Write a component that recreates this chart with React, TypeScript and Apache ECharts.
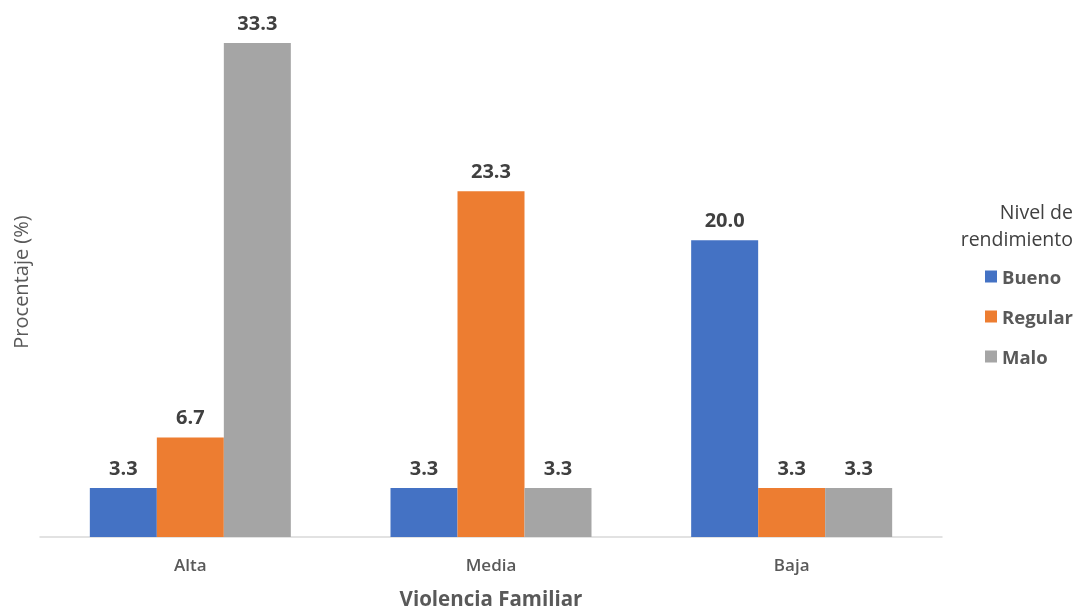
import React, { useEffect, useRef } from "react";
import * as echarts from "echarts";

const categories = ["Alta", "Media", "Baja"];
const seriesNames = ["Bueno", "Regular", "Malo"];
const bueno = [3.3, 3.3, 20.0];
const regular = [6.7, 23.3, 3.3];
const malo = [33.3, 3.3, 3.3];
const colors = ["#4472C4", "#ED7D31", "#A5A5A5"];

const FONT = "'Open Sans', 'Noto Sans', sans-serif";

export default function App() {
  const ref = useRef<HTMLDivElement>(null);
  useEffect(() => {
    if (!ref.current) return;
    const chart = echarts.init(ref.current, undefined, { renderer: "svg" });
    const values = [bueno, regular, malo];
    chart.setOption({
      animation: false,
      textStyle: { fontFamily: FONT },
      grid: {
        left: 40,
        right: 138,
        top: 43,
        bottom: 73,
        containLabel: false,
        outerBoundsMode: "none",
      },
      xAxis: {
        type: "category",
        data: categories,
        axisLine: { show: true, lineStyle: { color: "#D9D9D9", width: 1.5 } },
        axisTick: { show: false },
        axisLabel: {
          color: "#595959",
          fontSize: 17,
          fontWeight: 600,
          margin: 19,
          fontFamily: FONT,
        },
        name: "Violencia Familiar",
        nameLocation: "middle",
        nameGap: 50,
        nameTextStyle: { color: "#595959", fontSize: 20.5, fontWeight: "bold", fontFamily: FONT },
      },
      yAxis: {
        type: "value",
        min: 0,
        max: 33.3,
        axisLine: { show: false },
        axisTick: { show: false },
        axisLabel: { show: false },
        splitLine: { show: false },
      },
      legend: {
        orient: "vertical",
        left: 985,
        top: 267,
        padding: 0,
        align: "left",
        itemWidth: 12,
        itemHeight: 12,
        itemGap: 21,
        icon: "rect",
        data: seriesNames,
        textStyle: { color: "#595959", fontSize: 18.5, fontWeight: "bold", fontFamily: FONT },
      },
      graphic: [
        {
          type: "text",
          x: 20,
          y: 282,
          rotation: Math.PI / 2,
          style: {
            text: "Procentaje (%)",
            align: "center",
            verticalAlign: "middle",
            fill: "#595959",
            fontSize: 20,
            fontWeight: 500,
            fontFamily: FONT,
          },
        },
        {
          type: "text",
          x: 1073,
          y: 211,
          style: {
            text: "Nivel de",
            align: "right",
            verticalAlign: "middle",
            fill: "#404040",
            fontSize: 19.5,
            lineHeight: 20,
            fontFamily: FONT,
          },
        },
        {
          type: "text",
          x: 1073,
          y: 238,
          style: {
            text: "rendimiento",
            align: "right",
            verticalAlign: "middle",
            fill: "#404040",
            fontSize: 19.5,
            lineHeight: 20,
            fontFamily: FONT,
          },
        },
      ],
      series: seriesNames.map((name, i) => ({
        name,
        type: "bar",
        data: values[i],
        barWidth: 67,
        barGap: "0%",
        itemStyle: { color: colors[i] },
        label: {
          show: true,
          position: "top",
          distance: 11,
          formatter: (p: any) => Number(p.value).toFixed(1),
          color: "#404040",
          fontSize: 20,
          fontWeight: "bold",
          fontFamily: FONT,
        },
      })),
    });
    return () => chart.dispose();
  }, []);
  return (
    <div
      ref={ref}
      style={{ position: "fixed", left: 0, top: 0, width: 1080, height: 610 }}
    />
  );
}
